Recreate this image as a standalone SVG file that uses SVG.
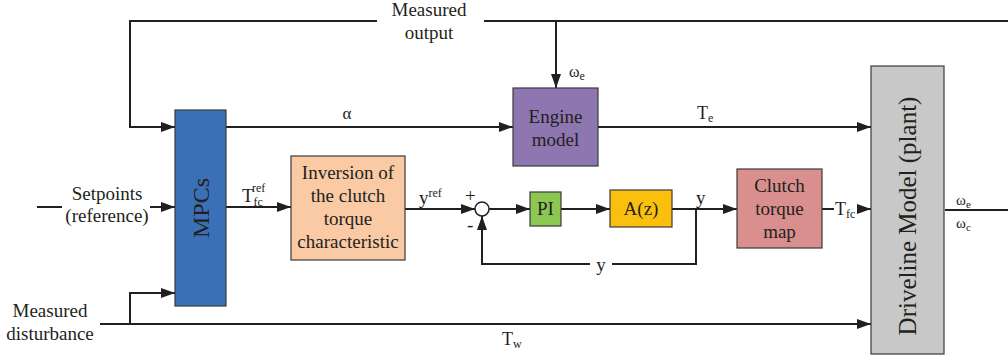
<svg xmlns="http://www.w3.org/2000/svg" width="1008" height="356" viewBox="0 0 1008 356" font-family="'Liberation Serif', 'Times New Roman', serif">
<style>
.ln{stroke:#231f20;stroke-width:2;fill:none}
.bx{stroke:#3a3a3a;stroke-width:1.2}
.tx{font-family:'Liberation Serif','Times New Roman',serif;fill:#231f20}
</style>
<defs>
<marker id="ar" markerWidth="14" markerHeight="10" viewBox="0 0 14 10" refX="14" refY="5" orient="auto" markerUnits="userSpaceOnUse">
<path d="M0,0 L14,5 L0,10 Z" fill="#231f20"/>
</marker>
</defs>
<rect width="1008" height="356" fill="#fff"/>
<g id="connectors">
<polyline class="ln" points="377,21 130,21 130,127 175,127" marker-end="url(#ar)"/>
<line class="ln" x1="484" y1="21" x2="1008" y2="21"/>
<line class="ln" x1="556" y1="21" x2="556" y2="88" marker-end="url(#ar)"/>
<line class="ln" x1="226" y1="127" x2="513" y2="127" marker-end="url(#ar)"/>
<line class="ln" x1="598" y1="127" x2="871" y2="127" marker-end="url(#ar)"/>
<line class="ln" x1="37" y1="207" x2="62" y2="207"/>
<line class="ln" x1="150" y1="207" x2="175" y2="207" marker-end="url(#ar)"/>
<line class="ln" x1="226" y1="207" x2="291" y2="207" marker-end="url(#ar)"/>
<line class="ln" x1="405" y1="209" x2="475" y2="209" marker-end="url(#ar)"/>
<circle cx="482" cy="209" r="7" fill="#fff" stroke="#231f20" stroke-width="1.5"/>
<line class="ln" x1="489" y1="209" x2="530" y2="209" marker-end="url(#ar)"/>
<line class="ln" x1="561" y1="209" x2="610" y2="209" marker-end="url(#ar)"/>
<line class="ln" x1="672" y1="209" x2="737" y2="209" marker-end="url(#ar)"/>
<polyline class="ln" points="696,209 696,264 612,264"/>
<polyline class="ln" points="590,264 482,264 482,216" marker-end="url(#ar)"/>
<line class="ln" x1="822" y1="209" x2="834" y2="209"/>
<line class="ln" x1="858" y1="209" x2="871" y2="209" marker-end="url(#ar)"/>
<line class="ln" x1="945" y1="210" x2="1008" y2="210"/>
<line class="ln" x1="100" y1="324" x2="871" y2="324" marker-end="url(#ar)"/>
<polyline class="ln" points="130,324 130,293 175,293" marker-end="url(#ar)"/>
</g>
<g id="mpc">
<rect class="bx" x="175" y="110" width="51" height="196" fill="#3a70b6"/>
<text class="tx" transform="translate(209,208) rotate(-90)" text-anchor="middle" font-size="24">MPCs</text>
</g>
<g id="engine">
<rect class="bx" x="513" y="88" width="85" height="78" fill="#8e76b0"/>
<text class="tx" font-size="19" x="555.5" y="123" text-anchor="middle">Engine</text>
<text class="tx" font-size="19" x="555.5" y="146" text-anchor="middle">model</text>
</g>
<g id="inversion">
<rect class="bx" x="291" y="156" width="114" height="104" fill="#f9caa4"/>
<text class="tx" font-size="19" x="348" y="179" text-anchor="middle">Inversion of</text>
<text class="tx" font-size="19" x="348" y="202" text-anchor="middle">the clutch</text>
<text class="tx" font-size="19" x="348" y="225" text-anchor="middle">torque</text>
<text class="tx" font-size="19" x="348" y="248" text-anchor="middle">characteristic</text>
</g>
<g id="pi">
<rect class="bx" x="530" y="192" width="31" height="34" fill="#8cc751"/>
<text class="tx" font-size="19" x="545.5" y="215" text-anchor="middle">PI</text>
</g>
<g id="az">
<rect class="bx" x="610" y="190" width="62" height="37" fill="#fbc00e"/>
<text class="tx" font-size="19" x="641" y="215" text-anchor="middle">A(z)</text>
</g>
<g id="clutchmap">
<rect class="bx" x="737" y="169" width="85" height="79" fill="#d98f8d"/>
<text class="tx" font-size="19" x="779.5" y="192" text-anchor="middle">Clutch</text>
<text class="tx" font-size="19" x="779.5" y="215" text-anchor="middle">torque</text>
<text class="tx" font-size="19" x="779.5" y="238" text-anchor="middle">map</text>
</g>
<g id="driveline">
<rect class="bx" x="871" y="66" width="73" height="288" fill="#c8c8c9"/>
<text class="tx" transform="translate(916,216) rotate(-90)" text-anchor="middle" font-size="25">Driveline Model (plant)</text>
</g>
<g id="labels">
<text class="tx" font-size="19" x="429" y="16" text-anchor="middle">Measured</text>
<text class="tx" font-size="19" x="429" y="39" text-anchor="middle">output</text>
<text class="tx" font-size="16" x="569" y="77">ω<tspan font-size="12" dy="3">e</tspan></text>
<text class="tx" font-size="17" x="347" y="119" text-anchor="middle">α</text>
<text class="tx" font-size="18" x="697" y="119">T<tspan font-size="12" dy="3">e</tspan></text>
<text class="tx" font-size="19" x="107" y="200" text-anchor="middle">Setpoints</text>
<text class="tx" font-size="19" x="107" y="222" text-anchor="middle">(reference)</text>
<text class="tx" font-size="19" x="242" y="202">T<tspan font-size="12" dy="4">fc</tspan><tspan font-size="12" dx="-11" dy="-14">ref</tspan></text>
<text class="tx" font-size="19" x="419" y="204">y<tspan font-size="12" dy="-7">ref</tspan></text>
<text class="tx" font-size="19" x="465" y="202">+</text>
<text class="tx" font-size="19" x="467" y="231">-</text>
<text class="tx" font-size="19" x="696" y="204">y</text>
<text class="tx" font-size="19" x="601" y="271" text-anchor="middle">y</text>
<text class="tx" font-size="18" x="835" y="215">T<tspan font-size="12" dy="3">fc</tspan></text>
<text class="tx" font-size="15" x="956" y="205">ω<tspan font-size="11" dy="3">e</tspan></text>
<text class="tx" font-size="15" x="956" y="228">ω<tspan font-size="11" dy="3">c</tspan></text>
<text class="tx" font-size="19" x="50" y="317" text-anchor="middle">Measured</text>
<text class="tx" font-size="19" x="50" y="340" text-anchor="middle">disturbance</text>
<text class="tx" font-size="18" x="502" y="345">T<tspan font-size="12" dy="3">w</tspan></text>
</g>
</svg>
